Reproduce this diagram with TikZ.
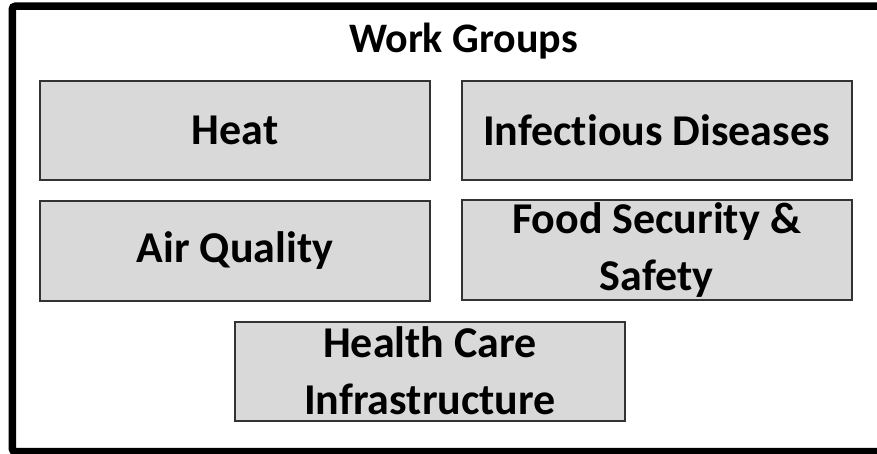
\documentclass[tikz,border=0pt]{standalone}
\usepackage{fontspec}
\setmainfont[Ligatures=NoCommon]{Carlito}
\definecolor{boxfill}{HTML}{D9D9D9}
\definecolor{boxline}{HTML}{333333}
\begin{document}
\begin{tikzpicture}[x=1pt,y=-1pt,
  wg/.style={draw=boxline,fill=boxfill,line width=2pt,minimum width=390pt,minimum height=99pt,
    inner sep=0pt,align=center,font=\bfseries\fontsize{44}{57}\selectfont},
  titletext/.style={inner sep=0pt,font=\bfseries\fontsize{42}{50}\selectfont}]
\useasboundingbox (0,0) rectangle (877,454);
\fill[white] (0,0) rectangle (877,454);
\draw[line width=7.5pt,rounded corners=3pt] (12.25,6.25) rectangle (890,451.5);
\node[titletext,anchor=base] (title) at (463.5,53) {Work Groups};
\node[wg] (heat) at (235,130.5) {Heat};
\node[wg] (inf) at (656.5,130.5) {Infectious Diseases};
\node[wg] (air) at (235,251) {Air Quality};
\node[wg] (food) at (656.5,250) {Food Security \&\\Safety};
\node[wg] (hc) at (430,371) {Health Care\\Infrastructure};
\end{tikzpicture}
\end{document}
